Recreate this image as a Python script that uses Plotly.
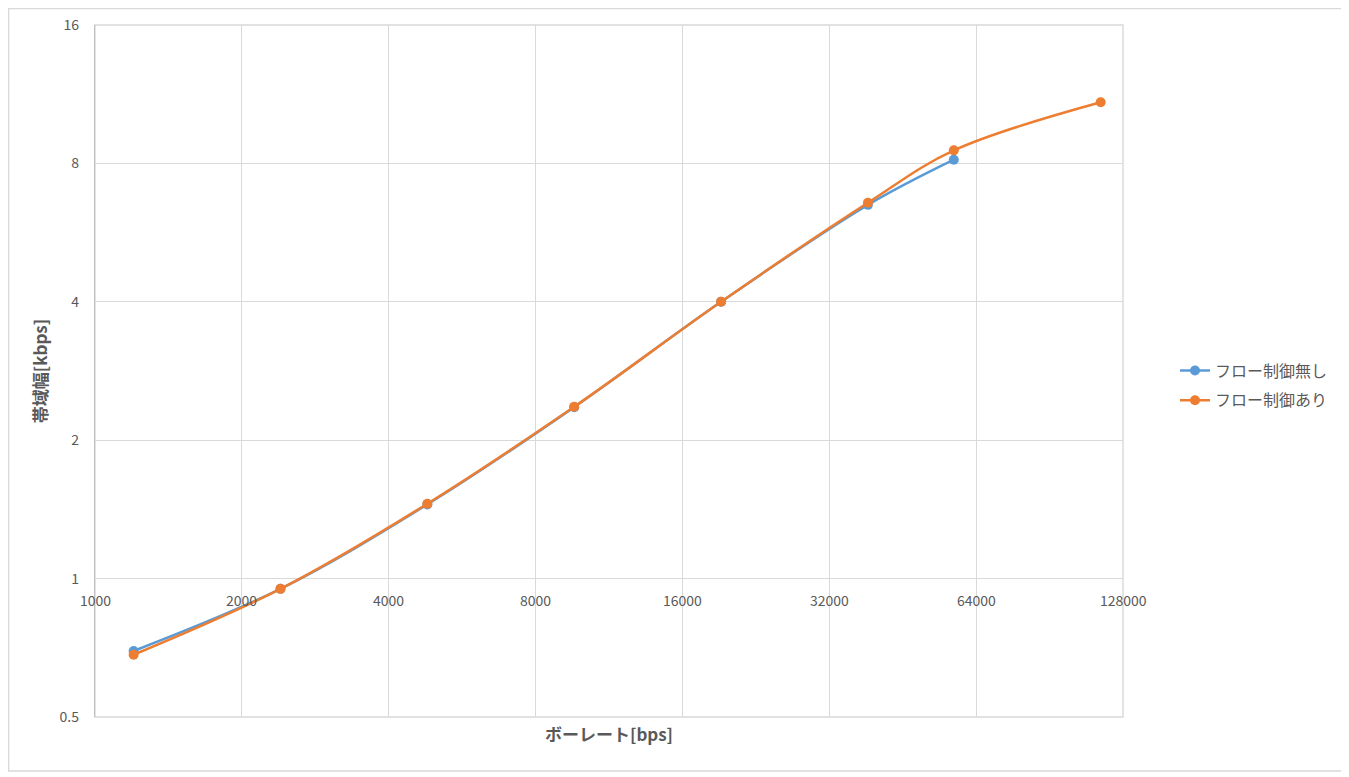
import math
import plotly.graph_objects as go

baud = [1200, 2400, 4800, 9600, 19200, 38400, 57600, 115200]
bw_no_flow = [0.696, 0.950, 1.45, 2.36, 4.0, 6.50, 8.15]
bw_flow = [0.683, 0.950, 1.455, 2.365, 4.0, 6.57, 8.54, 10.87]
series_names = ["フロー制御無し", "フロー制御あり"]
x_ticks = [1000, 2000, 4000, 8000, 16000, 32000, 64000, 128000]
y_ticks = [0.5, 1, 2, 4, 8, 16]

FONT = "Noto Sans CJK JP"
TXT = "#595959"
GRID = "#d9d9d9"

W, H = 1341, 769
L, T, R, B = 87, 17, 226, 60
PW, PH = W - L - R, H - T - B

fig = go.Figure()
fig.add_trace(go.Scatter(x=baud[:len(bw_no_flow)], y=bw_no_flow, name=series_names[0],
                         legendgroup="a",
                         mode="lines+markers", line=dict(color="#5B9BD5", width=2.5, shape="spline"),
                         marker=dict(size=10, color="#5B9BD5")))
fig.add_trace(go.Scatter(x=baud, y=bw_flow, name=series_names[1],
                         legendgroup="b",
                         mode="lines+markers", line=dict(color="#ED7D31", width=2.5, shape="spline"),
                         marker=dict(size=10, color="#ED7D31")))

fig.update_layout(
    width=W, height=H,
    margin=dict(l=L, r=R, t=T, b=B, autoexpand=False),
    paper_bgcolor="white", plot_bgcolor="white",
    font=dict(family=FONT, color=TXT, size=14),
    showlegend=True,
    legend=dict(x=(1167 - L) / PW, y=0.479, xanchor="left", yanchor="middle",
                font=dict(size=16, color=TXT, family=FONT),
                traceorder="grouped", tracegroupgap=6),
    xaxis=dict(type="log", range=[math.log10(1000), math.log10(128000)],
               tickvals=x_ticks, showticklabels=False, showgrid=True,
               gridcolor=GRID, gridwidth=1.4, zeroline=False,
               showline=False, ticks="", automargin=False,
               title=dict(text="<b>ボーレート[bps]</b>", font=dict(size=17, color=TXT), standoff=12)),
    yaxis=dict(type="log", range=[math.log10(0.5), math.log10(16)],
               tickvals=y_ticks, ticktext=[str(v) for v in y_ticks],
               showgrid=True, gridcolor=GRID, gridwidth=1.4, zeroline=False,
               showline=True, linecolor="#bfbfbf", linewidth=1.4, ticks="",
               ticklabelstandoff=12, automargin=False,
               tickfont=dict(size=14, color=TXT),
               title=dict(text="<b>帯域幅[kbps]</b>", font=dict(size=17, color=TXT), standoff=7)),
)

# plot area outline (top / right / bottom edges)
fig.add_shape(type="rect", xref="paper", yref="paper", x0=0, x1=1, y0=0, y1=1,
              line=dict(color=GRID, width=1.4), layer="below")

# horizontal axis line crossing at y = 1
fig.add_shape(type="line", xref="paper", x0=0, x1=1, yref="y", y0=0, y1=0,
              line=dict(color="#bfbfbf", width=1.5), layer="below")

# x tick labels placed on the crossing axis (y = 1)
for v in x_ticks:
    fig.add_annotation(x=math.log10(v), y=0, xref="x", yref="y", text=str(v),
                       showarrow=False, yshift=-21, font=dict(size=14, color=TXT, family=FONT))

# chart area border
fig.add_shape(type="rect", xref="paper", yref="paper",
              x0=(0.7 - L) / PW, x1=(1337 - L) / PW,
              y0=(PH + T - 763) / PH, y1=(PH + T - 0.7) / PH,
              line=dict(color=GRID, width=1.3))

fig.write_html("out.html")
